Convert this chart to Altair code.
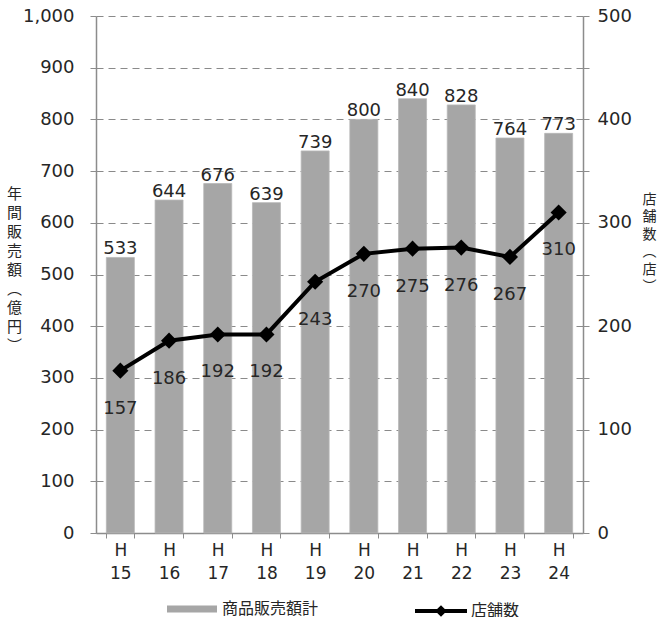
import altair as alt
import pandas as pd

# Fiscal years (Heisei era), annual sales (100M yen) and store counts
years = ["H15", "H16", "H17", "H18", "H19", "H20", "H21", "H22", "H23", "H24"]
sales = [533, 644, 676, 639, 739, 800, 840, 828, 764, 773]
stores = [157, 186, 192, 192, 243, 270, 275, 276, 267, 310]

df = pd.DataFrame({"year": years, "sales": sales, "stores": stores})

NUM_FONT = "DejaVu Sans"
JP_FONT = "Noto Sans CJK JP"
AXIS_GRAY = "#8c8c8c"
TEXT = "#262626"

x = alt.X(
    "year:N",
    sort=years,
    scale=alt.Scale(paddingInner=0.425, paddingOuter=0.2125),
    axis=alt.Axis(
        title=None,
        labelAngle=0,
        labelExpr="length(datum.label) > 1 ? ['H', substring(datum.label, 1)] : ''",
        labelFont=NUM_FONT,
        labelFontSize=17,
        labelLineHeight=23,
        labelColor=TEXT,
        labelPadding=4,
        tickBand="extent",
        tickSize=5,
        tickColor=AXIS_GRAY,
        domainColor=AXIS_GRAY,
        domainWidth=1.5,
        grid=False,
    ),
)

left_y = alt.Y(
    "sales:Q",
    scale=alt.Scale(domain=[0, 1000], nice=False),
    axis=alt.Axis(
        title=["年", "間", "販", "売", "額", "︵", "億", "円", "︶"],
        titleAngle=0,
        titleFont=JP_FONT,
        titleFontSize=15,
        titleFontWeight="normal",
        titleLineHeight=19,
        titleColor=TEXT,
        titleX=-82,
        titleY=170,
        titleAlign="center",
        titleBaseline="top",
        values=list(range(0, 1001, 100)),
        format=",d",
        labelFont=NUM_FONT,
        labelFontSize=18,
        labelColor=TEXT,
        labelPadding=16,
        tickSize=6,
        tickColor=AXIS_GRAY,
        domainColor=AXIS_GRAY,
        domainWidth=1.5,
        grid=True,
        gridColor="#8a8a8a",
        gridDash=[7, 5],
        gridWidth=1.2,
    ),
)

bars = alt.Chart(df).mark_bar(color="#a6a6a6", stroke="#b8b8b8", strokeWidth=0.8).encode(
    x=x,
    y=left_y,
    fill=alt.Fill(
        "series:N",
        scale=alt.Scale(domain=["商品販売額計"], range=["#a6a6a6"]),
        legend=alt.Legend(
            title=None,
            orient="none",
            legendX=86,
            legendY=583,
            symbolType="M-2.5,-0.35H2.5V0.35H-2.5Z",
            symbolSize=400,
            symbolStrokeWidth=0,
            labelFont=JP_FONT,
            labelFontSize=16,
            labelColor=TEXT,
            labelOffset=20,
        ),
    ),
).transform_calculate(series="'商品販売額計'")

bar_labels = alt.Chart(df).mark_text(
    baseline="alphabetic", dy=-3, font=NUM_FONT, fontSize=18, color=TEXT
).encode(x=x, y=left_y, text="sales:Q")

right_y = alt.Y(
    "stores:Q",
    scale=alt.Scale(domain=[0, 500], nice=False),
    axis=alt.Axis(
        orient="right",
        title=["店", "舗", "数", "︵", "店", "︶"],
        titleAngle=0,
        titleFont=JP_FONT,
        titleFontSize=14,
        titleFontWeight="normal",
        titleLineHeight=17.5,
        titleColor=TEXT,
        titleX=66,
        titleY=176,
        titleAlign="center",
        titleBaseline="top",
        values=list(range(0, 501, 50)),
        labelExpr="datum.value % 100 == 0 ? datum.label : ''",
        labelFont=NUM_FONT,
        labelFontSize=18,
        labelColor=TEXT,
        labelPadding=8,
        tickSize=6,
        tickColor=AXIS_GRAY,
        domainColor=AXIS_GRAY,
        domainWidth=1.5,
        grid=False,
    ),
)

line = alt.Chart(df).mark_line(color="black", strokeWidth=4).encode(
    x=x,
    y=right_y,
    stroke=alt.Stroke(
        "series:N",
        scale=alt.Scale(domain=["店舗数"], range=["black"]),
        legend=alt.Legend(
            title=None,
            orient="none",
            legendX=333,
            legendY=583,
            symbolType="M-2.6,0H2.6M-0.3,0L0,-0.3L0.3,0L0,0.3Z",
            symbolSize=400,
            symbolStrokeColor="black",
            symbolStrokeWidth=4,
            labelFont=JP_FONT,
            labelFontSize=16,
            labelColor=TEXT,
            labelOffset=18,
        ),
    ),
).transform_calculate(series="'店舗数'")

points = alt.Chart(df).mark_point(
    shape="diamond", size=260, filled=True, color="black", opacity=1
).encode(x=x, y=right_y)

line_labels = alt.Chart(df).mark_text(
    baseline="middle", dy=38, font=NUM_FONT, fontSize=18, color=TEXT
).encode(x=x, y=right_y, text="stores:Q")

left = alt.layer(bars, bar_labels)
right = alt.layer(line, points, line_labels)

chart = (
    alt.layer(left, right)
    .resolve_scale(y="independent")
    .properties(
        width=487,
        height=517,
        autosize=alt.AutoSizeParams(type="none"),
        padding={"left": 96, "top": 16, "right": 76, "bottom": 84},
    )
    .configure_view(stroke=None)
)

chart.save("out.html", embed_options={"renderer": "svg", "actions": False})
